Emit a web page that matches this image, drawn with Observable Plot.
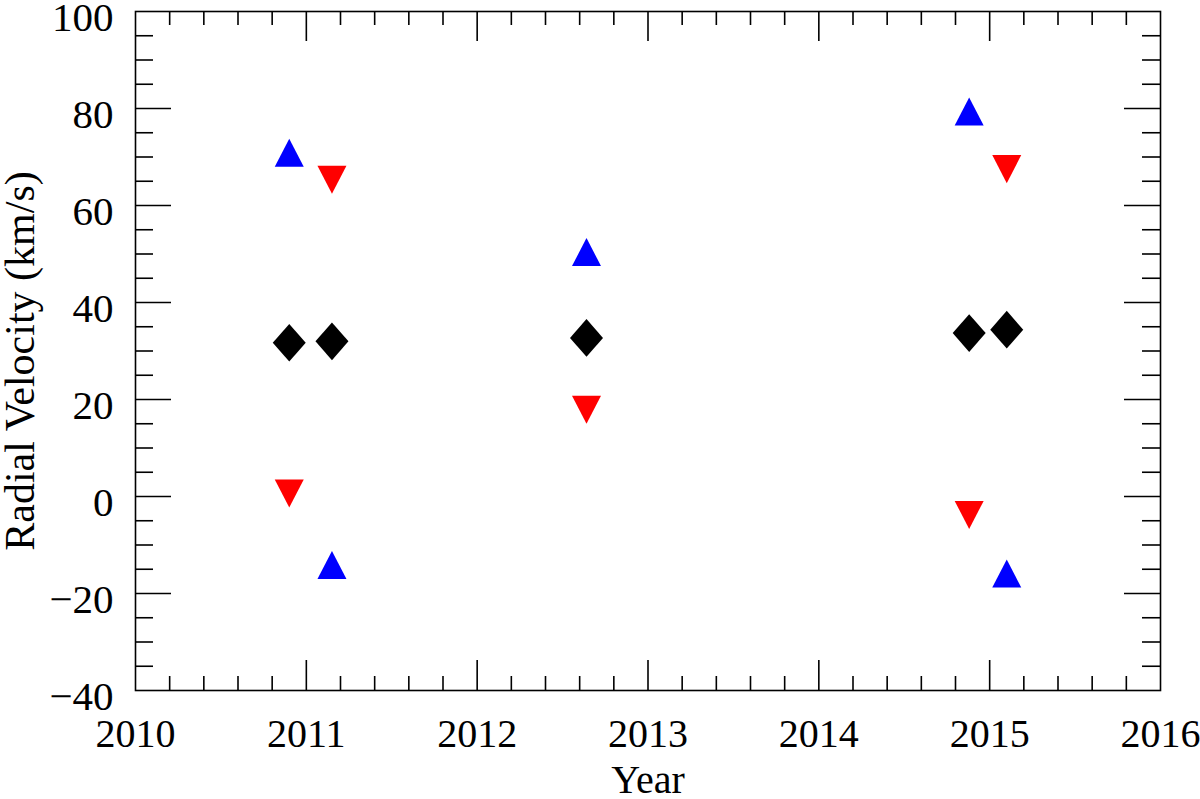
<!DOCTYPE html>
<html>
<head>
<meta charset="utf-8">
<script src="https://cdn.jsdelivr.net/npm/d3@7"></script>
<script src="https://cdn.jsdelivr.net/npm/@observablehq/plot@0.6"></script>
<style>
  html, body { margin: 0; padding: 0; background: #ffffff; }
  #chart { position: absolute; left: 0; top: 0; }
</style>
</head>
<body>
<div id="chart"></div>
<script>
// ---- data ----
const epochs  = [2010.90, 2011.15, 2012.64, 2014.88, 2015.10];
const blueRV  = [70.9, -14.1, 50.4, 79.4, -15.9];
const redRV   = [0.6, 65.3, 17.9, -3.8, 67.5];
const blackRV = [31.7, 32.0, 32.7, 33.7, 34.4];

const xTickLabels = [2010, 2011, 2012, 2013, 2014, 2015, 2016];
const yTickLabels = [-40, -20, 0, 20, 40, 60, 80, 100];
const xLabel = "Year";
const yLabel = "Radial Velocity (km/s)";

// ---- layout ----
const W = 1200, H = 799;
const mL = 135, mR = 40, mT = 11, mB = 109;
const innerW = W - mL - mR, innerH = H - mT - mB;

const xMinor = d3.range(2010.2, 2016, 0.2).map(v => +v.toFixed(1)).filter(v => Math.abs(v - Math.round(v)) > 1e-6);
const xMajor = xTickLabels.slice(1, -1);
const yMinor = d3.range(-35, 100, 5).filter(v => v % 20 !== 0);
const yMajor = yTickLabels.slice(1, -1);

const rows = arr => epochs.map((t, i) => ({t, v: arr[i]}));

// symbols centered on their bounding box
const triUp = {draw(ctx, size) { const r = Math.sqrt(size / Math.PI), h = 0.966 * r;
  ctx.moveTo(0, -h); ctx.lineTo(r, h); ctx.lineTo(-r, h); ctx.closePath(); }};
const triDown = {draw(ctx, size) { const r = Math.sqrt(size / Math.PI), h = 0.966 * r;
  ctx.moveTo(0, h); ctx.lineTo(r, -h); ctx.lineTo(-r, -h); ctx.closePath(); }};
const diamond = {draw(ctx, size) { const r = Math.sqrt(size / Math.PI), a = 1.138 * r, b = 1.30 * r;
  ctx.moveTo(0, -b); ctx.lineTo(a, 0); ctx.lineTo(0, b); ctx.lineTo(-a, 0); ctx.closePath(); }};

const sw = 1.6;
const fmtY = d => d < 0 ? "\u2212" + Math.abs(d) : String(d);

const chart = Plot.plot({
  width: W, height: H,
  marginLeft: mL, marginRight: mR, marginTop: mT, marginBottom: mB,
  x: {domain: [2010, 2016]},
  y: {domain: [-40, 100]},
  style: {fontFamily: "'Liberation Serif', 'Times New Roman', serif", background: "white", color: "black"},
  marks: [
    // inward ticks: bottom & top (x), left & right (y)
    Plot.tickX(xMinor, {x: d => d, insetTop: innerH - 14, stroke: "black", strokeWidth: sw}),
    Plot.tickX(xMajor, {x: d => d, insetTop: innerH - 30, stroke: "black", strokeWidth: sw}),
    Plot.tickX(xMinor, {x: d => d, insetBottom: innerH - 14, stroke: "black", strokeWidth: sw}),
    Plot.tickX(xMajor, {x: d => d, insetBottom: innerH - 30, stroke: "black", strokeWidth: sw}),
    Plot.tickY(yMinor, {y: d => d, insetRight: innerW - 18, stroke: "black", strokeWidth: sw}),
    Plot.tickY(yMajor, {y: d => d, insetRight: innerW - 36, stroke: "black", strokeWidth: sw}),
    Plot.tickY(yMinor, {y: d => d, insetLeft: innerW - 18, stroke: "black", strokeWidth: sw}),
    Plot.tickY(yMajor, {y: d => d, insetLeft: innerW - 36, stroke: "black", strokeWidth: sw}),
    Plot.frame({stroke: "black", strokeWidth: sw}),
    Plot.axisX({ticks: xTickLabels, tickSize: 0, tickPadding: 28, fontSize: 40, label: null, tickFormat: d => String(d)}),
    Plot.axisY({ticks: yTickLabels, tickSize: 0, tickPadding: 22, fontSize: 41, label: null, tickFormat: fmtY, dy: 6}),
    Plot.text([xLabel], {text: d => d, frameAnchor: "bottom", textAnchor: "middle", lineAnchor: "bottom", dy: 102, fontSize: 40}),
    Plot.text([yLabel], {text: d => d, frameAnchor: "left", textAnchor: "middle", rotate: -90, lineAnchor: "bottom", dx: -102, dy: 10, fontSize: 42}),
    // data
    Plot.dot(rows(blackRV), {x: "t", y: "v", symbol: diamond, r: 14.5, fill: "black", stroke: "none"}),
    Plot.dot(rows(blueRV), {x: "t", y: "v", symbol: triUp, r: 14.5, fill: "#0000ff", stroke: "none"}),
    Plot.dot(rows(redRV), {x: "t", y: "v", symbol: triDown, r: 14.5, fill: "#ff0000", stroke: "none"})
  ]
});
document.getElementById("chart").append(chart);
</script>
</body>
</html>
